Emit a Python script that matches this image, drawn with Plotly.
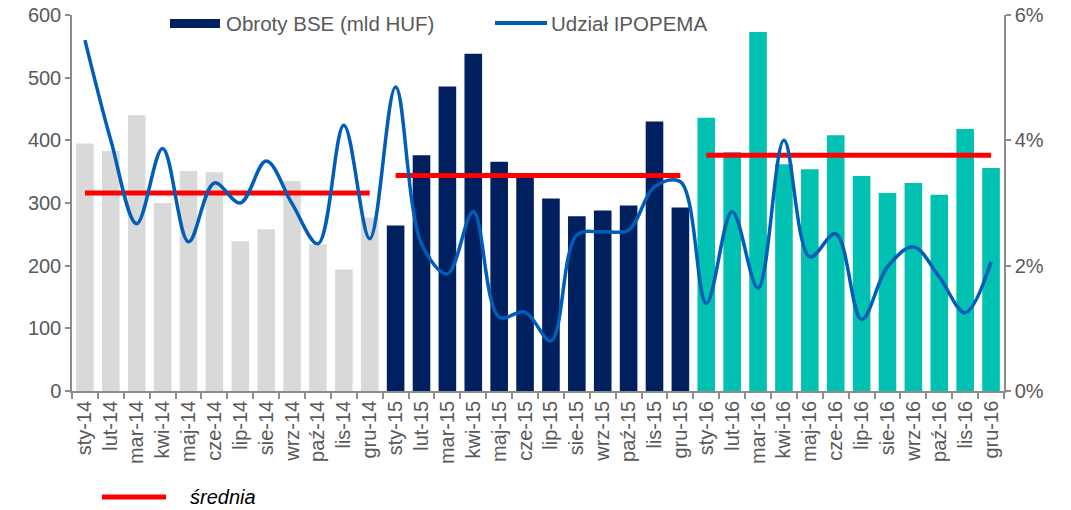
import plotly.graph_objects as go

months = ["sty", "lut", "mar", "kwi", "maj", "cze", "lip", "sie", "wrz", "paź", "lis", "gru"]
cat_2014 = [f"{m}-14" for m in months]
cat_2015 = [f"{m}-15" for m in months]
cat_2016 = [f"{m}-16" for m in months]
categories = cat_2014 + cat_2015 + cat_2016

turnover_2014 = [395, 383, 440, 300, 351, 349, 239, 258, 335, 234, 194, 277]
turnover_2015 = [264, 376, 486, 538, 366, 341, 307, 279, 288, 296, 430, 293]
turnover_2016 = [436, 381, 573, 362, 354, 408, 343, 316, 332, 313, 418, 356]

share_ipopema = [
    5.60, 4.00, 2.67, 3.87, 2.38, 3.32, 3.00, 3.67, 2.99, 2.35, 4.24, 2.43,
    4.85, 2.35, 1.87, 2.86, 1.18, 1.26, 0.80, 2.49, 2.54, 2.57, 3.26, 3.34,
    1.40, 2.86, 1.64, 4.00, 2.14, 2.51, 1.14, 1.98, 2.30, 1.82, 1.25, 2.06,
]
share_ipopema = [v / 100 for v in share_ipopema]

avg_2014 = 316
avg_2015 = 344
avg_2016 = 376

C_GREY = "#D9D9D9"
C_NAVY = "#002060"
C_TEAL = "#00C1B2"
C_LINE = "#005EB8"
C_RED = "#FF0000"
C_TEXT = "#595959"
C_AXIS = "#8C8C8C"
FONT = "Liberation Sans, Arial, sans-serif"

fig = go.Figure()

for cats, vals, col in [(cat_2014, turnover_2014, C_GREY),
                        (cat_2015, turnover_2015, C_NAVY),
                        (cat_2016, turnover_2016, C_TEAL)]:
    fig.add_trace(go.Bar(x=cats, y=vals, marker=dict(color=col, line=dict(width=0)),
                         showlegend=False, yaxis="y", hoverinfo="x+y"))

fig.add_trace(go.Scatter(x=categories, y=share_ipopema, mode="lines",
                         line=dict(color=C_LINE, width=3.5, shape="spline", smoothing=1.0),
                         yaxis="y2", showlegend=False))

for cats, avg in [(cat_2014, avg_2014), (cat_2015, avg_2015), (cat_2016, avg_2016)]:
    fig.add_trace(go.Scatter(x=[cats[0], cats[-1]], y=[avg, avg], mode="lines",
                             line=dict(color=C_RED, width=5), yaxis="y", showlegend=False))

fig.update_layout(
    width=1071, height=510,
    margin=dict(l=72, r=67, t=15, b=119, autoexpand=False),
    plot_bgcolor="white", paper_bgcolor="white",
    bargap=0.32,
    font=dict(family=FONT, size=20, color=C_TEXT),
    xaxis=dict(type="category", categoryorder="array", categoryarray=categories,
               tickangle=-90, tickson="boundaries", ticks="outside", ticklen=6,
               tickcolor=C_AXIS, tickwidth=1.5, showline=True, linecolor=C_AXIS,
               linewidth=1.5, showgrid=False, tickfont=dict(size=20, color=C_TEXT),
               range=[-0.5, 35.5], automargin=False),
    yaxis=dict(range=[0, 600], dtick=100, showgrid=False, zeroline=False,
               showline=True, linecolor=C_AXIS, linewidth=1.5, ticks="outside",
               ticklen=5, tickcolor=C_AXIS, tickwidth=1.5, automargin=False,
               tickfont=dict(size=20, color=C_TEXT)),
    yaxis2=dict(range=[0, 0.06], dtick=0.02, tickformat=".0%", overlaying="y",
                side="right", showgrid=False, zeroline=False, showline=True,
                linecolor=C_AXIS, linewidth=1.5, ticks="outside", ticklen=5,
                tickcolor=C_AXIS, tickwidth=1.5, automargin=False,
                tickfont=dict(size=20, color=C_TEXT)),
)

# Custom legend (pixel positions converted to paper coordinates)
W, H = 1071, 510
L, R, T, B = 72, 67, 15, 119
pw, ph = W - L - R, H - T - B

def px(x):
    return (x - L) / pw

def py(y):
    return (H - B - y) / ph

fig.add_shape(type="rect", xref="paper", yref="paper",
              x0=px(170), x1=px(220), y0=py(28), y1=py(19),
              fillcolor=C_NAVY, line=dict(width=0))
fig.add_annotation(xref="paper", yref="paper", x=px(224), y=py(23),
                   text="Obroty BSE (mld HUF)", showarrow=False, xanchor="left",
                   yanchor="middle", font=dict(size=20.5, color=C_TEXT))
fig.add_shape(type="line", xref="paper", yref="paper",
              x0=px(495), x1=px(547), y0=py(23), y1=py(23),
              line=dict(color=C_LINE, width=4))
fig.add_annotation(xref="paper", yref="paper", x=px(549), y=py(23),
                   text="Udział IPOPEMA", showarrow=False, xanchor="left",
                   yanchor="middle", font=dict(size=20.5, color=C_TEXT))
fig.add_shape(type="line", xref="paper", yref="paper",
              x0=px(102), x1=px(166), y0=py(497), y1=py(497),
              line=dict(color=C_RED, width=5))
fig.add_annotation(xref="paper", yref="paper", x=px(188), y=py(497),
                   text="<i>średnia</i>", showarrow=False, xanchor="left",
                   yanchor="middle", font=dict(size=20, color="#000000"))

fig.write_html("out.html", config={"displayModeBar": False},
               post_script="document.body.style.margin='0';document.body.style.overflow='hidden';")
